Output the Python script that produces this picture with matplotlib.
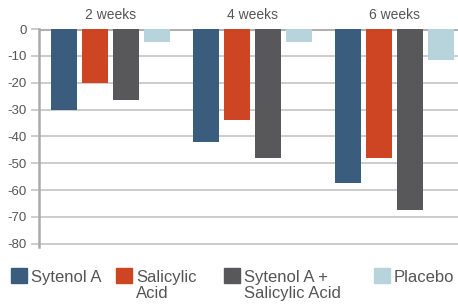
import numpy as np
import matplotlib
matplotlib.use("Agg")
import matplotlib.pyplot as plt
from matplotlib.patches import Rectangle

weeks = ["2 weeks", "4 weeks", "6 weeks"]
series = ["Sytenol A", "Salicylic\nAcid", "Sytenol A +\nSalicylic Acid", "Placebo"]
sytenol = [-30, -42, -57.5]
salicylic = [-20, -34, -48]
combo = [-26.5, -48, -67.5]
placebo = [-5, -5, -11.5]
colors = ["#3a5d7e", "#cd4522", "#58585a", "#b7d4dc"]
yticks = [0, -10, -20, -30, -40, -50, -60, -70, -80]

plt.rcParams['font.family'] = ['Liberation Sans', 'DejaVu Sans']

fig = plt.figure(figsize=(4.58, 3.04), dpi=100)
ax = fig.add_axes([39 / 458, 1 - 247 / 304, 1 - 39 / 458, (247 - 29) / 304])

x = np.arange(len(weeks))
step = 0.218
width = 0.183
for i, vals in enumerate([sytenol, salicylic, combo, placebo]):
    ax.bar(x + (i - 1.5) * step, vals, width, color=colors[i], zorder=3)

ax.set_xlim(-0.503, 2.447)
ax.set_ylim(-81.2, 0)
ax.set_yticks(yticks)
ax.set_yticklabels([str(v) for v in yticks])
ax.yaxis.grid(True, color="#c4c4c4", lw=1.2, zorder=0)
ax.axhline(0, color="#b0b0b0", lw=2.2, zorder=2)

ax.xaxis.tick_top()
ax.set_xticks(x)
ax.set_xticklabels(weeks)
ax.tick_params(axis="x", length=0, pad=5, labelsize=10, labelcolor="#555555")
ax.tick_params(axis="y", length=6, width=1.2, color="#c4c4c4", pad=3,
               labelsize=9.5, labelcolor="#555555")

for s in ["top", "right", "bottom"]:
    ax.spines[s].set_visible(False)
ax.spines["left"].set_color("#aaaaaa")
ax.spines["left"].set_linewidth(1.8)

# legend drawn by hand to match the spacing
leg_x = [11, 116, 224, 374]
for i, name in enumerate(series):
    fig.add_artist(Rectangle((leg_x[i] / 458, 1 - 283 / 304), 16 / 458, 15 / 304,
                             transform=fig.transFigure, color=colors[i]))
    fig.text((leg_x[i] + 20) / 458, 1 - 270 / 304, name, fontsize=12,
             color="#555555", va="top", ha="left", linespacing=1.1)

fig.savefig("out.png", dpi=100)
